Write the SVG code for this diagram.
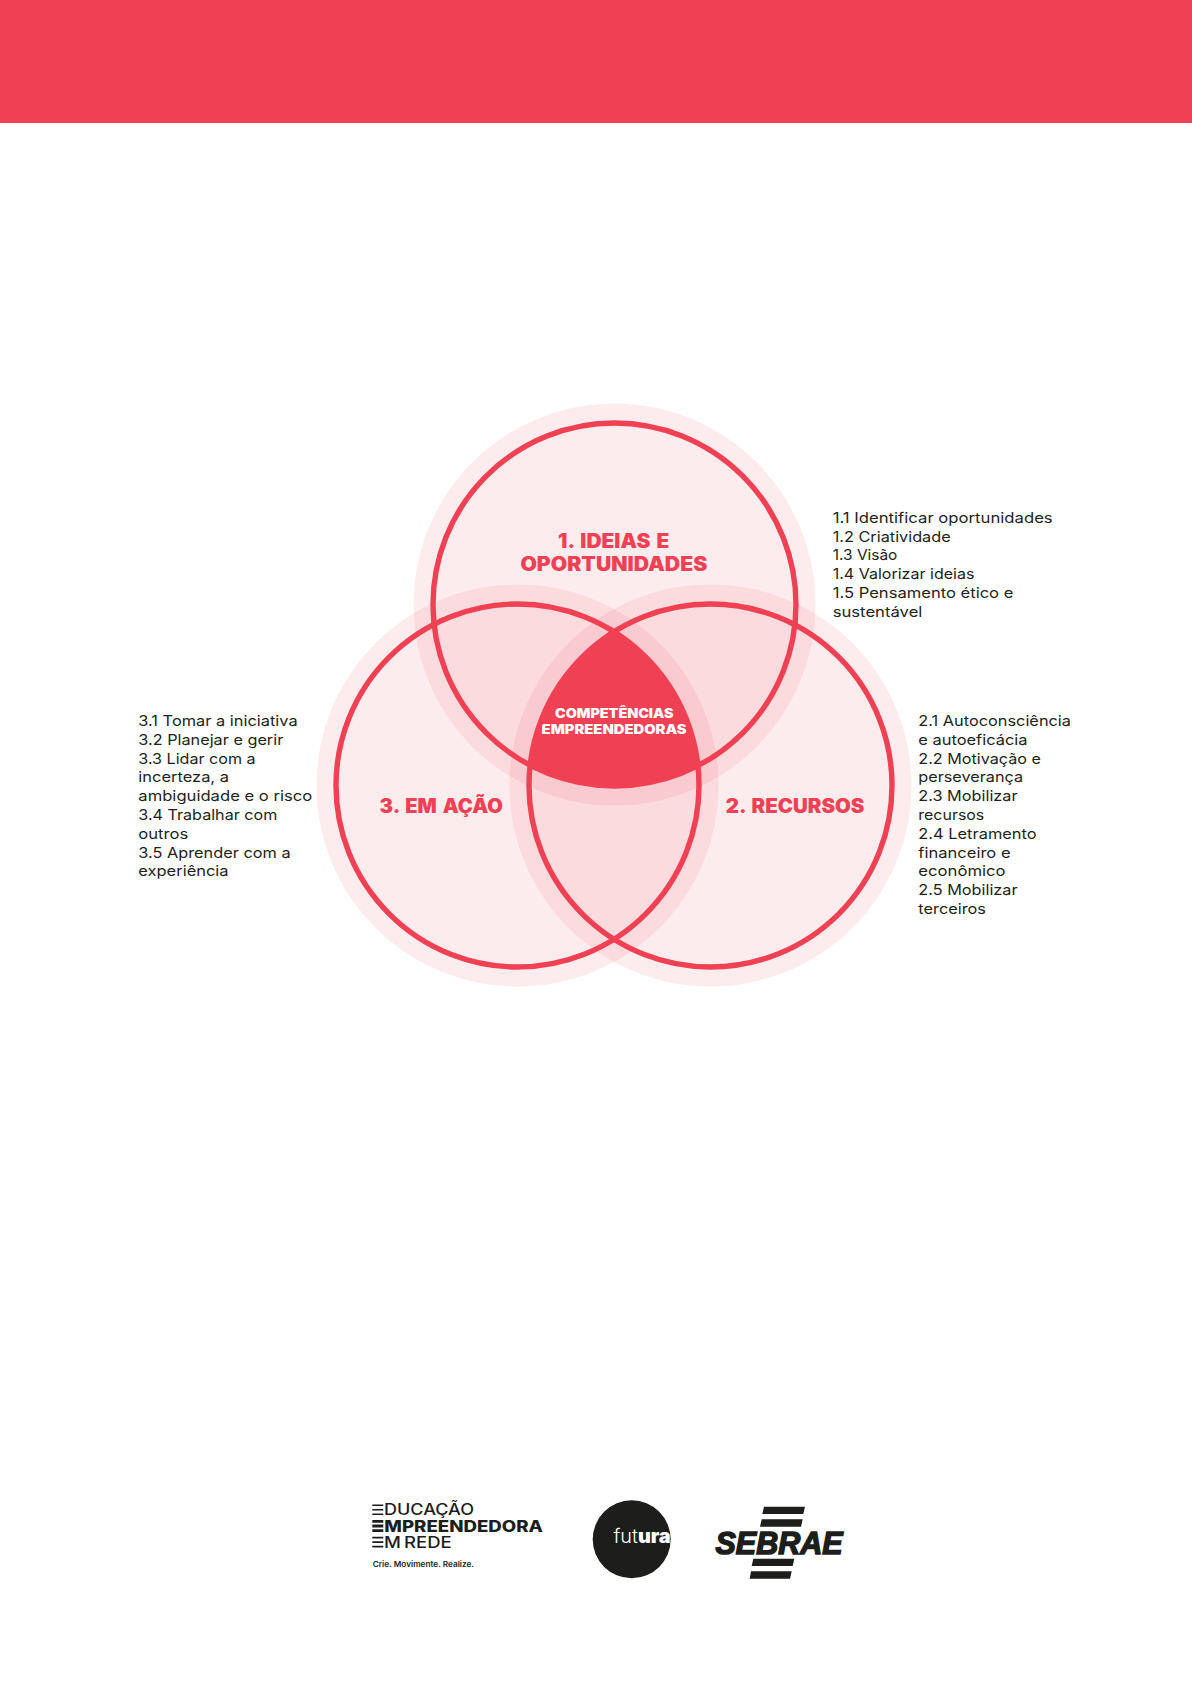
<svg xmlns="http://www.w3.org/2000/svg" width="1192" height="1684" viewBox="0 0 1192 1684">
<style>
.halo{fill:#f04054;fill-opacity:.1}
.ring{fill:none;stroke:#f04054;stroke-width:5.4}
.item{font-family:Inter,"Liberation Sans",sans-serif;font-size:14.5px;font-weight:430;fill:#231f20}
.head{font-family:Inter,"Liberation Sans",sans-serif;font-size:19.5px;font-weight:900;fill:#f04054;word-spacing:2px}
.core{font-family:Inter,"Liberation Sans",sans-serif;font-size:12.8px;font-weight:900;fill:#fff}
.logo{font-family:Inter,"Liberation Sans",sans-serif;fill:#1d1d1b}
.k{fill:#1d1d1b}
</style>
<rect width="1192" height="1684" fill="#fff"/>
<rect id="header" width="1192" height="123" fill="#f04054"/>
<g id="venn-halos">
<circle class="halo" cx="614.5" cy="604.5" r="201"/>
<circle class="halo" cx="517.5" cy="785.5" r="201"/>
<circle class="halo" cx="710.5" cy="785.5" r="201"/>
</g>
<g id="competencias">
<path d="M614 632 A181.5 181.5 0 0 1 699.3 765 A181.5 181.5 0 0 1 529.7 765 A181.5 181.5 0 0 1 614 632Z" fill="#f04054"/>
<text class="core" x="555" y="718" textLength="118.5" lengthAdjust="spacingAndGlyphs">COMPETÊNCIAS</text>
<text class="core" x="541.6" y="734" textLength="145" lengthAdjust="spacingAndGlyphs">EMPREENDEDORAS</text>
</g>
<g id="node-1">
<circle class="ring" cx="614.5" cy="604.5" r="181.5"/>
<text class="head" x="558" y="548" textLength="111.4" lengthAdjust="spacingAndGlyphs">1. IDEIAS E</text>
<text class="head" x="520.4" y="571.4" textLength="186.9" lengthAdjust="spacingAndGlyphs">OPORTUNIDADES</text>
<g class="item">
<text x="832.7" y="522.7" textLength="220" lengthAdjust="spacingAndGlyphs">1.1 Identificar oportunidades</text>
<text x="832.7" y="541.5" textLength="118" lengthAdjust="spacingAndGlyphs">1.2 Criatividade</text>
<text x="832.7" y="560.3" textLength="64.7" lengthAdjust="spacingAndGlyphs">1.3 Visão</text>
<text x="832.7" y="579.1" textLength="141.7" lengthAdjust="spacingAndGlyphs">1.4 Valorizar ideias</text>
<text x="832.7" y="597.9" textLength="180.7" lengthAdjust="spacingAndGlyphs">1.5 Pensamento ético e</text>
<text x="832.7" y="616.7" textLength="89.7" lengthAdjust="spacingAndGlyphs">sustentável</text>
</g>
</g>
<g id="node-3">
<circle class="ring" cx="517.5" cy="785.5" r="181.5"/>
<text class="head" x="379.6" y="813" textLength="123.3" lengthAdjust="spacingAndGlyphs">3. EM AÇÃO</text>
<g class="item">
<text x="138.3" y="726" textLength="159.3" lengthAdjust="spacingAndGlyphs">3.1 Tomar a iniciativa</text>
<text x="138.3" y="744.8" textLength="145" lengthAdjust="spacingAndGlyphs">3.2 Planejar e gerir</text>
<text x="138.3" y="763.6" textLength="117.3" lengthAdjust="spacingAndGlyphs">3.3 Lidar com a</text>
<text x="138.3" y="782.4" textLength="90.7" lengthAdjust="spacingAndGlyphs">incerteza, a</text>
<text x="138.3" y="801.2" textLength="174" lengthAdjust="spacingAndGlyphs">ambiguidade e o risco</text>
<text x="138.3" y="820" textLength="139" lengthAdjust="spacingAndGlyphs">3.4 Trabalhar com</text>
<text x="138.3" y="838.8" textLength="50" lengthAdjust="spacingAndGlyphs">outros</text>
<text x="138.3" y="857.6" textLength="152.3" lengthAdjust="spacingAndGlyphs">3.5 Aprender com a</text>
<text x="138.3" y="876.4" textLength="90.3" lengthAdjust="spacingAndGlyphs">experiência</text>
</g>
</g>
<g id="node-2">
<circle class="ring" cx="710.5" cy="785.5" r="181.5"/>
<text class="head" x="725.7" y="813" textLength="138.8" lengthAdjust="spacingAndGlyphs">2. RECURSOS</text>
<g class="item">
<text x="918.3" y="726" textLength="152.7" lengthAdjust="spacingAndGlyphs">2.1 Autoconsciência</text>
<text x="918.3" y="744.8" textLength="109.3" lengthAdjust="spacingAndGlyphs">e autoeficácia</text>
<text x="918.3" y="763.6" textLength="122.7" lengthAdjust="spacingAndGlyphs">2.2 Motivação e</text>
<text x="918.3" y="782.4" textLength="104.7" lengthAdjust="spacingAndGlyphs">perseverança</text>
<text x="918.3" y="801.2" textLength="99.3" lengthAdjust="spacingAndGlyphs">2.3 Mobilizar</text>
<text x="918.3" y="820" textLength="66" lengthAdjust="spacingAndGlyphs">recursos</text>
<text x="918.3" y="838.8" textLength="118.3" lengthAdjust="spacingAndGlyphs">2.4 Letramento</text>
<text x="918.3" y="857.6" textLength="92.3" lengthAdjust="spacingAndGlyphs">financeiro e</text>
<text x="918.3" y="876.4" textLength="87.3" lengthAdjust="spacingAndGlyphs">econômico</text>
<text x="918.3" y="895.2" textLength="99.3" lengthAdjust="spacingAndGlyphs">2.5 Mobilizar</text>
<text x="918.3" y="914" textLength="67.7" lengthAdjust="spacingAndGlyphs">terceiros</text>
</g>
</g>
<g id="logo-educacao">
<path class="k" d="M372.3 1504.5h11v1.6h-11zM372.3 1509h11v1.6h-11zM372.3 1513.5h11v1.6h-11zM372.3 1520h11v2.8h-11zM372.3 1524.6h11v2.8h-11zM372.3 1529.2h11v2.8h-11zM372.3 1536.8h11v1.6h-11zM372.3 1541.3h11v1.6h-11zM372.3 1545.8h11v1.6h-11z"/>
<text class="logo" x="384" y="1515" font-size="15.5" font-weight="500" textLength="90" lengthAdjust="spacingAndGlyphs">DUCAÇÃO</text>
<text class="logo" x="384.3" y="1531.7" font-size="15.5" font-weight="800" textLength="158.7" lengthAdjust="spacingAndGlyphs">MPREENDEDORA</text>
<text class="logo" x="384" y="1547.7" font-size="15.5" font-weight="500" word-spacing="-1.5" textLength="67.7" lengthAdjust="spacingAndGlyphs">M REDE</text>
<text class="logo" x="372.7" y="1566.7" font-size="7.5" font-weight="600" textLength="101.3" lengthAdjust="spacingAndGlyphs">Crie. Movimente. Realize.</text>
</g>
<g id="logo-futura">
<circle class="k" cx="631.7" cy="1539.3" r="39"/>
<text x="613.5" y="1543" font-family="Inter,'Liberation Sans',sans-serif" font-size="19" fill="#fff" textLength="57.2" lengthAdjust="spacingAndGlyphs"><tspan font-weight="300">fut</tspan><tspan font-weight="900">ura</tspan></text>
</g>
<g id="logo-sebrae">
<path class="k" d="M764 1506.7h41l-1.7 7.3h-41zM761.7 1519.3h41l-1.7 7.4h-41zM753.3 1558.7h41l-1.6 7.3h-41zM751 1571.3h40.7l-1.7 7.4h-40.3z"/>
<text x="715.5" y="1553.5" font-family="'Liberation Sans',Arial,sans-serif" font-size="30.5" font-weight="700" font-style="italic" fill="#1d1d1b" stroke="#1d1d1b" stroke-width="1.5" textLength="127" lengthAdjust="spacingAndGlyphs">SEBRAE</text>
</g>
</svg>
